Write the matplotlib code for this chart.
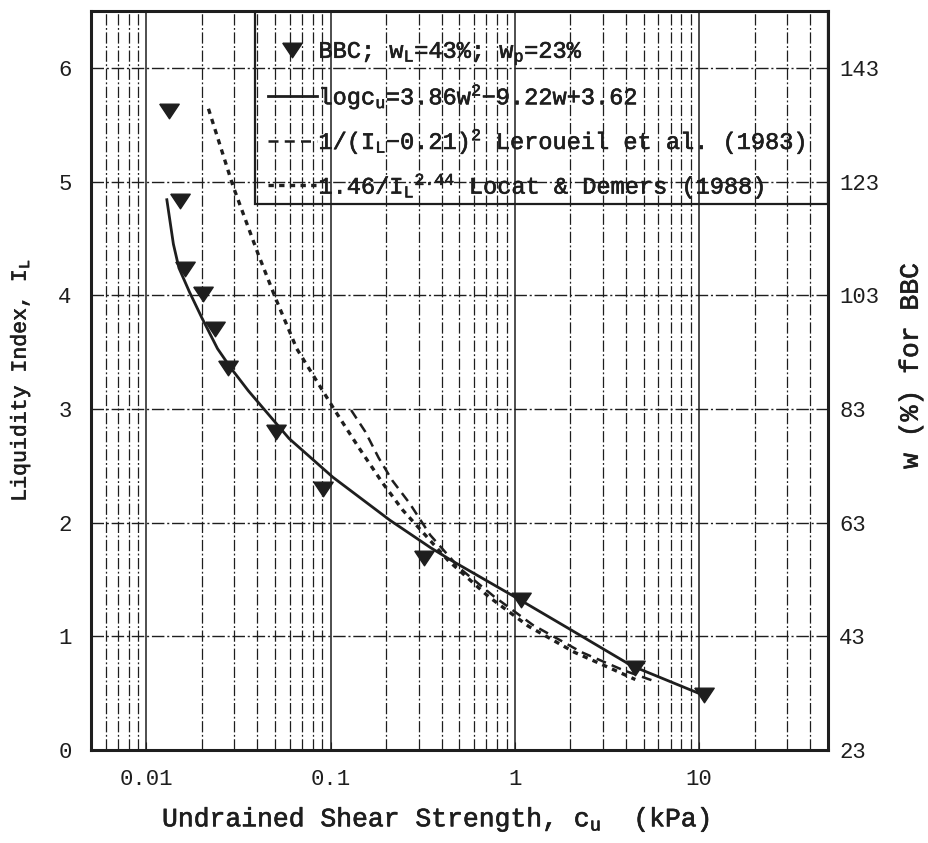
import matplotlib
matplotlib.use("Agg")
import matplotlib.pyplot as plt
import matplotlib.patheffects as pe
from matplotlib.patches import Rectangle
from matplotlib.ticker import FixedLocator, FixedFormatter, LogLocator, NullFormatter
import numpy as np

# ---- data ----
cu_data = [0.0132, 0.0152, 0.0161, 0.0203, 0.0235, 0.0277, 0.0505, 0.091, 0.321, 1.08, 4.48, 10.6]
IL_data = [5.62, 4.83, 4.23, 4.01, 3.70, 3.36, 2.80, 2.30, 1.69, 1.32, 0.72, 0.48]

IL_fit = [4.84, 4.45, 4.24, 4.03, 3.80, 3.53, 3.36, 3.16, 2.74, 2.40, 2.02, 1.78, 1.67, 1.33, 1.07, 0.74, 0.50]
cu_fit = [0.0129, 0.0140, 0.0150, 0.0171, 0.0200, 0.0243, 0.0287, 0.0357, 0.0594, 0.1026, 0.210, 0.348, 0.449, 1.04, 1.95, 4.31, 9.9]

IL_ler = [2.99, 2.80, 2.57, 2.37, 2.17, 1.89, 1.60, 1.35, 1.10, 0.86, 0.70, 0.61]
cu_ler = [0.129, 0.154, 0.182, 0.216, 0.268, 0.347, 0.50, 0.77, 1.25, 2.3, 3.9, 5.6]

IL_loc = [5.64, 4.96, 4.37, 3.97, 3.53, 2.99, 2.66, 2.35, 2.11, 1.91, 1.67, 1.35, 1.09, 0.86, 0.70, 0.62]
cu_loc = [0.0217, 0.0295, 0.0402, 0.0503, 0.0654, 0.105, 0.142, 0.191, 0.246, 0.318, 0.432, 0.718, 1.18, 2.1, 3.5, 4.5]

x_ticks = [0.01, 0.1, 1, 10]
x_ticklabels = ["0.01", "0.1", "1", "10"]
y_ticks = [0, 1, 2, 3, 4, 5, 6]
w_ticks = [23, 43, 63, 83, 103, 123, 143]
wP, wL = 23, 43

labels = [r"BBC; w$_\mathrm{L}$=43%; w$_\mathrm{p}$=23%",
          r"logc$_\mathrm{u}$=3.86w$^\mathrm{2}$$-$9.22w+3.62",
          r"1/(I$_\mathrm{L}$$-$0.21)$^\mathrm{2}$ Leroueil et al. (1983)",
          r"1.46/I$_\mathrm{L}$$^\mathrm{2.44}$ Locat & Demers (1988)"]

# ---- style ----
FONT = "Liberation Mono"
plt.rcParams["font.family"] = [FONT, "DejaVu Sans"]
plt.rcParams["mathtext.fontset"] = "custom"
plt.rcParams["mathtext.rm"] = FONT
plt.rcParams["mathtext.it"] = FONT
plt.rcParams["mathtext.bf"] = FONT + ":bold"
INK = "#1e1e1e"
thick = [pe.withStroke(linewidth=0.45, foreground=INK)]

fig = plt.figure(figsize=(9.29, 8.43), dpi=100)
ax = fig.add_axes([91/929, 1-750/843, (828-91)/929, (750-11)/843])

ax.set_xscale("log")
ax.set_xlim(0.005, 50)
ax.set_ylim(0, 6.5)

# grid
ax.xaxis.set_major_locator(FixedLocator(x_ticks))
ax.xaxis.set_major_formatter(FixedFormatter(x_ticklabels))
ax.xaxis.set_minor_locator(LogLocator(base=10, subs=np.arange(2, 10), numticks=20))
ax.xaxis.set_minor_formatter(NullFormatter())
ax.set_yticks(y_ticks)

dashdot = (0, (9, 2, 1.5, 2))
ax.grid(True, which="major", axis="x", color=INK, lw=1.1, ls="-")
ax.grid(True, which="minor", axis="x", color=INK, lw=0.9, ls=dashdot)
ax.grid(True, which="major", axis="y", color=INK, lw=1.0, ls=dashdot)

# curves
marker_tri = [(-1, 0.75), (1, 0.75), (0, -0.75), (-1, 0.75)]
h_data, = ax.plot(cu_data, IL_data, ls="none", marker=marker_tri, ms=14, color=INK,
                  mec=INK, zorder=5)
h_fit, = ax.plot(cu_fit, IL_fit, ls="-", lw=2.0, color=INK, zorder=4)
h_ler, = ax.plot(cu_ler, IL_ler, ls=(0, (4, 2.5)), lw=1.8, color=INK, zorder=4)
h_loc, = ax.plot(cu_loc, IL_loc, ls=(0, (1.6, 1.6)), lw=2.4, color=INK, zorder=4)

for s in ax.spines.values():
    s.set_linewidth(2.2)
    s.set_color(INK)

ax.tick_params(axis="both", which="both", direction="in", colors=INK)
ax.tick_params(axis="x", which="major", length=6, pad=14, labelsize=16)
ax.tick_params(axis="x", which="minor", length=4)
ax.tick_params(axis="y", which="major", length=0, pad=14, labelsize=16)

ax.set_xlabel(r"Undrained Shear Strength, c$_\mathrm{u}$  (kPa)", fontsize=19, color=INK)
ax.xaxis.set_label_coords(0.468, -0.075)
ax.set_ylabel(r"Liquidity Index, I$_\mathrm{L}$", fontsize=15.5, color=INK)
ax.yaxis.set_label_coords(-0.079, 0.5)

# right axis: water content
ax2 = ax.twinx()
ax2.set_ylim(wP, wP + 6.5 * (wL - wP))
ax2.set_yticks(w_ticks)
ax2.tick_params(axis="y", direction="in", length=0, pad=8, labelsize=16, colors=INK)
ax2.set_ylabel("w (%) for BBC", fontsize=19, color=INK)
ax2.yaxis.set_label_coords(1.096, 0.52)
for s in ax2.spines.values():
    s.set_visible(False)

# legend box
box = Rectangle((0.2225, 0.739), 1 - 0.2225, 0.261, transform=ax.transAxes,
                fill=False, edgecolor=INK, lw=1.6, zorder=6)
ax.add_patch(box)

leg = ax.legend([h_data, h_fit, h_ler, h_loc], labels,
                loc="upper left", bbox_to_anchor=(0.2077, 0.993),
                borderaxespad=0, fontsize=17, handlelength=2.1,
                handletextpad=0.05, labelspacing=0.65, borderpad=1.0,
                frameon=False)
for t in leg.get_texts():
    t.set_color(INK)
leg.set_zorder(7)

for t in fig.findobj(matplotlib.text.Text):
    if t.get_text():
        t.set_path_effects(thick)

fig.savefig("out.png", dpi=100)
